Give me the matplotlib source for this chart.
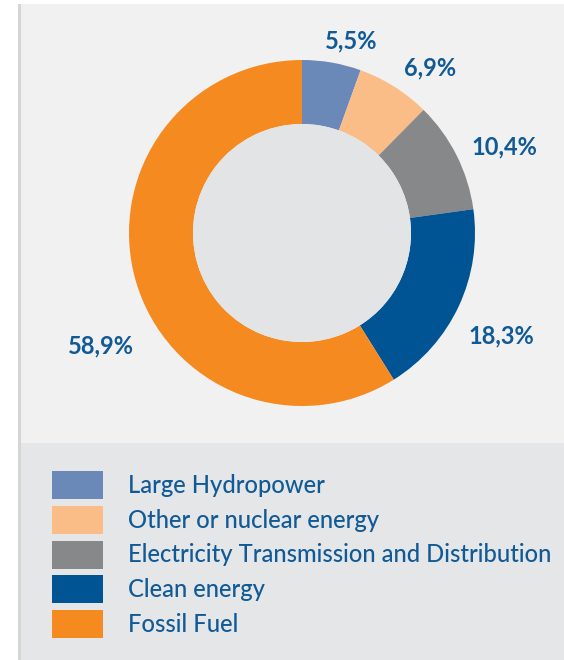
import matplotlib
matplotlib.use("Agg")
import matplotlib.pyplot as plt
from matplotlib.patches import Rectangle, Circle

# ---- data ----
categories = ["Large Hydropower", "Other or nuclear energy",
              "Electricity Transmission and Distribution", "Clean energy", "Fossil Fuel"]
values = [5.5, 6.9, 10.4, 18.3, 58.9]
value_labels = ["5,5%", "6,9%", "10,4%", "18,3%", "58,9%"]

# ---- style / layout ----
colors = ["#6a89b8", "#fbbd87", "#878889", "#005494", "#f58a21"]
text_color = "#115a96"
W, H = 564, 660
cx, cy = 302, H - 233
R_out, R_in = 173, 109
label_pos = [(351, 48), (430, 75), (504, 154), (501, 343), (101, 353)]  # (x, baseline y) px from top

plt.rcParams['font.family'] = ['Lato', 'DejaVu Sans']

fig = plt.figure(figsize=(W / 100, H / 100), dpi=100)
fig.patch.set_facecolor("white")
ax = fig.add_axes([0, 0, 1, 1])
ax.set_xlim(0, W)
ax.set_ylim(0, H)
ax.set_aspect("equal")
ax.axis("off")

# panels
ax.add_patch(Rectangle((21, H - 443), W - 21, 443 - 4, facecolor="#f1f1f1", edgecolor="none", zorder=0))
ax.add_patch(Rectangle((21, 0), W - 21, H - 443, facecolor="#e5e6e8", edgecolor="none", zorder=0))
ax.add_patch(Rectangle((18, 0), 3, H - 4, facecolor="#d5d5d5", edgecolor="none", zorder=0))

# donut
wedges, _ = ax.pie(values, colors=colors, startangle=90, counterclock=False,
                   center=(cx, cy), radius=R_out, frame=True,
                   wedgeprops=dict(width=R_out - R_in, edgecolor="none", linewidth=0))
ax.set_xlim(0, W)
ax.set_ylim(0, H)
ax.axis("off")
ax.add_patch(Circle((cx, cy), R_in, facecolor="#e3e4e6", edgecolor="none", zorder=3))

for lab, (x, y) in zip(value_labels, label_pos):
    ax.text(x, H - y, lab, ha="center", va="baseline", fontsize=17,
            fontweight="bold", color=text_color, zorder=5)

# legend
for i, (cat, col) in enumerate(zip(categories, colors)):
    top = 471 + i * 34.75
    ax.add_patch(Rectangle((52, H - top - 28), 51, 28, facecolor=col, edgecolor="none", zorder=4))
    ax.text(128, H - (493 + i * 34.75), cat, ha="left", va="baseline", fontsize=17.1,
            fontweight="medium", color=text_color, zorder=5)

fig.savefig("out.png", dpi=100, facecolor=fig.get_facecolor())
